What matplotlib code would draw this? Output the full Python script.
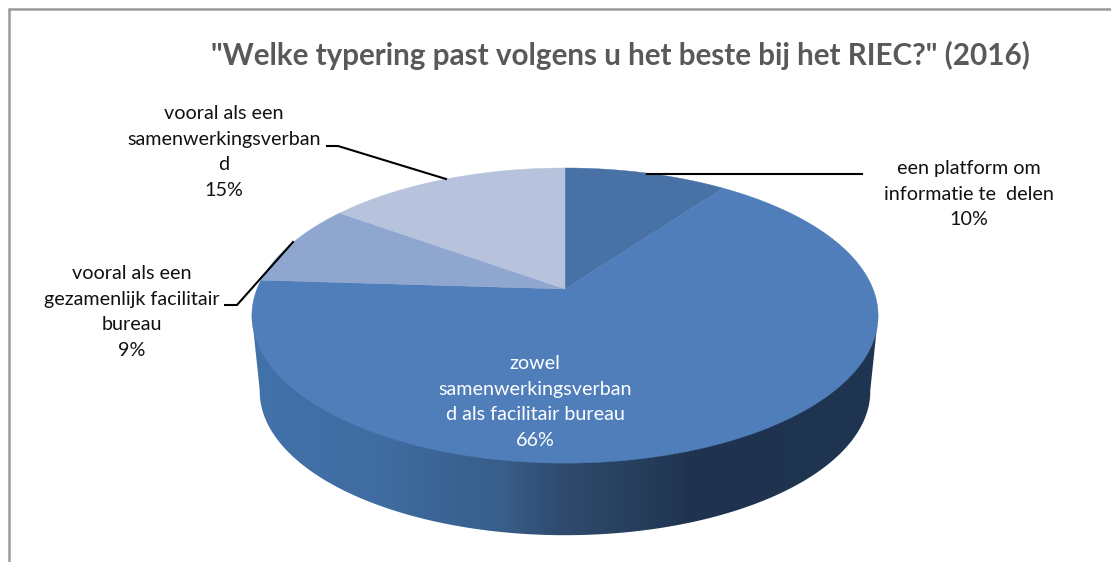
import numpy as np
import matplotlib
matplotlib.use('Agg')
import matplotlib.pyplot as plt
from matplotlib.patches import Polygon

plt.rcParams['font.family'] = ['Lato', 'DejaVu Sans']

title = '"Welke typering past volgens u het beste bij het RIEC?" (2016)'
values = [10, 66, 9, 15]
names = ['een platform om\ninformatie te  delen',
         'zowel\nsamenwerkingsverban\nd als facilitair bureau',
         'vooral als een\ngezamenlijk facilitair\nbureau',
         'vooral als een\nsamenwerkingsverban\nd']
colors = ['#4871a5', '#4f7ebb', '#8fa6cf', '#b7c3dc']
side_stops = [0.0, 0.2, 0.4, 0.49, 0.62, 0.7, 1.0]
side_colors = ['#4272aa', '#3f6ca1', '#385e8a', '#2f4b6f', '#263e5c', '#1f3350', '#1f3550']

# pie geometry in pixels, with a bit of perspective (k)
cx, cy = 565, 289
rx, ry = 308, 142.8
k = 0.18
depth = 76.4
shrink = 0.975


def project(theta, radius=1.0, dy=0.0, scale=1.0):
    # theta is clockwise from twelve o'clock
    x = radius * np.sin(theta)
    y = radius * np.cos(theta)
    w = 1 + k * y
    return cx + scale * rx * x / w, cy + dy - scale * ry * y / w


fig = plt.figure(figsize=(11.11, 5.62), dpi=100)
ax = fig.add_axes([0, 0, 1, 1])
ax.set_xlim(0, 1111)
ax.set_ylim(562, 0)
ax.axis('off')

# chart frame, only top and left are in the crop
ax.plot([8.5, 8.5, 1111], [562, 8.5, 8.5], color='#9a9a9a', lw=1.8, solid_joinstyle='miter')

# side of the pie: gradient clipped to the outline
t = np.radians(np.linspace(100, 260, 300))
bx, by = project(t, dy=depth, scale=shrink)
side_x = np.r_[cx + rx * 1.0166, bx, cx - rx * 1.0166]
side_y = np.r_[315.6, by, 315.6]
outline = Polygon(np.c_[side_x, side_y], closed=True, transform=ax.transData, fc='none', ec='none')
ax.add_patch(outline)
gx = np.linspace(0, 1, 256)
grad = np.array([np.interp(gx, side_stops, [matplotlib.colors.to_rgb(c)[i] for c in side_colors]) for i in range(3)]).T
img = ax.imshow(grad[np.newaxis, :, :], extent=[cx - rx * 1.02, cx + rx * 1.02, 540, 300],
                aspect='auto', zorder=2, interpolation='bilinear')
img.set_clip_path(outline)
ax.set_xlim(0, 1111)
ax.set_ylim(562, 0)

# top face
edges = np.cumsum([0] + values) / sum(values) * 2 * np.pi
for i, v in enumerate(values):
    t = np.linspace(edges[i], edges[i + 1], 200)
    px, py = project(t)
    ax.fill(np.r_[cx, px], np.r_[cy, py], color=colors[i], lw=0.3, zorder=3)

# leader lines
line_style = dict(color='black', lw=1.5, zorder=4, solid_joinstyle='round')
ax.plot([647, 862], [174, 174], **line_style)
ax.plot([327, 338, 446], [146, 146, 179], **line_style)
ax.plot([225, 237, 293], [305, 305, 242], **line_style)

# labels
label_pos = [(969, 194), (535, 402), (132, 312), (224, 152)]
label_col = ['#111111', 'white', '#111111', '#111111']
for name, v, (lx, ly), c in zip(names, values, label_pos, label_col):
    ax.text(lx, ly, f'{name}\n{v}%', ha='center', va='center', color=c,
            fontsize=14.2, linespacing=1.62, zorder=5)

ax.text(620, 55, title, ha='center', va='center', color='#595959', fontsize=21.3, fontweight='bold')

fig.savefig('out.png', dpi=100)
